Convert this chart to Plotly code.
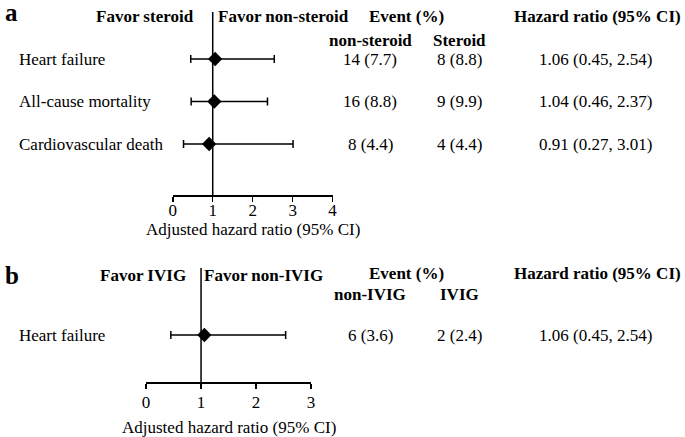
import plotly.graph_objects as go

W, H = 685, 437

# ---- data: panel a (steroid) ----
a_outcomes = ["Heart failure", "All-cause mortality", "Cardiovascular death"]
a_hr = [1.06, 1.04, 0.91]
a_lo = [0.45, 0.46, 0.27]
a_hi = [2.54, 2.37, 3.01]
a_ev_non = ["14 (7.7)", "16 (8.8)", "8 (4.4)"]
a_ev_trt = ["8 (8.8)", "9 (9.9)", "4 (4.4)"]
a_ticks = [0, 1, 2, 3, 4]

# ---- data: panel b (IVIG) ----
b_outcomes = ["Heart failure"]
b_hr = [1.06]
b_lo = [0.45]
b_hi = [2.54]
b_ev_non = ["6 (3.6)"]
b_ev_trt = ["2 (2.4)"]
b_ticks = [0, 1, 2, 3]

FONT = "Liberation Serif"
FS = 17


def fx(px):
    return px / W


def fy(py):
    return 1 - py / H


ROWPX = 42.5
fig = go.Figure()

# panel a geometry (pixels)
A_X0, A_X1 = 171, 333
A_TOP, A_BOT, A_ROW0 = 12, 195, 59
# panel b geometry
B_X0, B_X1 = 144, 311
B_TOP, B_BOT, B_ROW0 = 268, 382, 335

a_rows = list(range(len(a_outcomes)))
b_rows = list(range(len(b_outcomes)))

fig.add_trace(go.Scatter(
    x=a_hr, y=a_rows, mode="markers", xaxis="x", yaxis="y",
    marker=dict(symbol="diamond", size=11, color="black"),
    error_x=dict(type="data", symmetric=False,
                 array=[h - m for h, m in zip(a_hi, a_hr)],
                 arrayminus=[m - l for m, l in zip(a_hr, a_lo)],
                 color="black", thickness=1.5, width=4),
    showlegend=False, hoverinfo="skip"))

fig.add_trace(go.Scatter(
    x=b_hr, y=b_rows, mode="markers", xaxis="x2", yaxis="y2",
    marker=dict(symbol="diamond", size=11, color="black"),
    error_x=dict(type="data", symmetric=False,
                 array=[h - m for h, m in zip(b_hi, b_hr)],
                 arrayminus=[m - l for m, l in zip(b_hr, b_lo)],
                 color="black", thickness=1.5, width=4),
    showlegend=False, hoverinfo="skip"))

axis_common = dict(showgrid=False, zeroline=False, showline=True, linecolor="black",
                   linewidth=1.5, ticks="outside", ticklen=5, tickwidth=1.5, tickcolor="black",
                   tickfont=dict(family=FONT, size=FS, color="black"), fixedrange=True)

fig.update_layout(
    width=W, height=H, margin=dict(l=0, r=0, t=0, b=0),
    paper_bgcolor="white", plot_bgcolor="white",
    font=dict(family=FONT, size=FS, color="black"),
    xaxis=dict(domain=[fx(A_X0), fx(A_X1)], range=[0, 4], tickvals=a_ticks, anchor="y",
               ticklabelstandoff=-6, **axis_common),
    yaxis=dict(domain=[fy(A_BOT), fy(A_TOP)],
               range=[(A_BOT - A_ROW0) / ROWPX, (A_TOP - A_ROW0) / ROWPX],
               visible=False, fixedrange=True),
    xaxis2=dict(domain=[fx(B_X0), fx(B_X1)], range=[0, 3], tickvals=b_ticks, anchor="y2",
                ticklabelstandoff=-1, **axis_common),
    yaxis2=dict(domain=[fy(B_BOT), fy(B_TOP)],
                range=[(B_BOT - B_ROW0) / ROWPX, (B_TOP - B_ROW0) / ROWPX],
                visible=False, fixedrange=True),
)

# reference lines at HR = 1
fig.add_shape(type="line", xref="x", yref="y domain", x0=1, x1=1, y0=0, y1=1,
              line=dict(color="black", width=1.5), layer="below")
fig.add_shape(type="line", xref="x2", yref="y2 domain", x0=1, x1=1, y0=0, y1=1,
              line=dict(color="black", width=1.5), layer="below")


def txt(x, y, s, xanchor="center", bold=False, size=FS, yref="paper"):
    fig.add_annotation(x=x, y=y, xref="paper", yref=yref, text=(f"<b>{s}</b>" if bold else s),
                       showarrow=False, xanchor=xanchor, yanchor="middle", borderpad=0, borderwidth=0,
                       font=dict(family=FONT, size=size, color="black"))


COL_NON, COL_TRT, COL_HR, COL_EV = 371, 462, 599, 408

# panel a labels
txt(fx(1), fy(12), "a", xanchor="left", bold=True, size=25)
txt(fx(193), fy(17), "Favor steroid", xanchor="right", bold=True)
txt(fx(217), fy(17), "Favor non-steroid", xanchor="left", bold=True)
txt(fx(COL_EV), fy(17), "Event (%)", bold=True)
txt(fx(601), fy(17), "Hazard ratio (95% CI)", bold=True)
txt(fx(COL_NON), fy(40), "non-steroid", bold=True)
txt(fx(COL_TRT), fy(40), "Steroid", bold=True)
txt(fx(252), fy(229), "Adjusted hazard ratio (95% CI)")
for i, name in enumerate(a_outcomes):
    txt(fx(15), i, name, xanchor="left", yref="y")
    txt(fx(COL_NON), i, a_ev_non[i], yref="y")
    txt(fx(COL_TRT), i, a_ev_trt[i], yref="y")
    txt(fx(COL_HR), i, f"{a_hr[i]:.2f} ({a_lo[i]:.2f}, {a_hi[i]:.2f})", yref="y")

# panel b labels
txt(fx(1), fy(275), "b", xanchor="left", bold=True, size=25)
txt(fx(184), fy(275), "Favor IVIG", xanchor="right", bold=True)
txt(fx(203), fy(275), "Favor non-IVIG", xanchor="left", bold=True)
txt(fx(COL_EV), fy(273), "Event (%)", bold=True)
txt(fx(601), fy(273), "Hazard ratio (95% CI)", bold=True)
txt(fx(COL_NON), fy(294), "non-IVIG", bold=True)
txt(fx(COL_TRT), fy(294), "IVIG", bold=True)
txt(fx(228), fy(427), "Adjusted hazard ratio (95% CI)")
for i, name in enumerate(b_outcomes):
    txt(fx(15), i, name, xanchor="left", yref="y2")
    txt(fx(COL_NON), i, b_ev_non[i], yref="y2")
    txt(fx(COL_TRT), i, b_ev_trt[i], yref="y2")
    txt(fx(COL_HR), i, f"{b_hr[i]:.2f} ({b_lo[i]:.2f}, {b_hi[i]:.2f})", yref="y2")

fig.write_html("out.html", config={"displayModeBar": False, "staticPlot": True},
               post_script="document.body.style.margin='0';")
